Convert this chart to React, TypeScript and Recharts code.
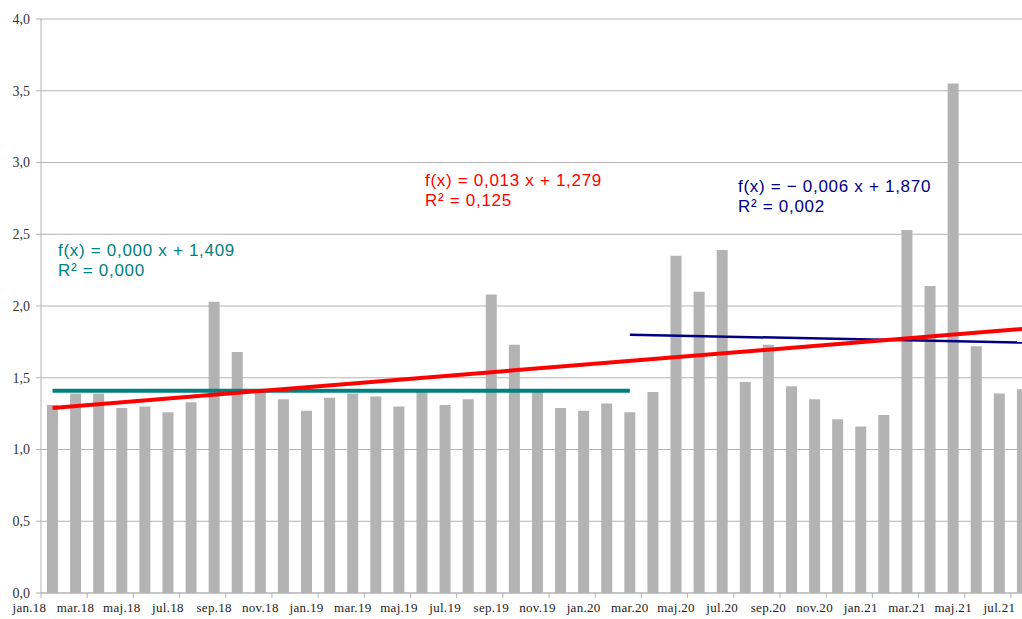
import { ComposedChart, Bar, Line, XAxis, YAxis, CartesianGrid } from "recharts";

// monthly values jan.18 - jul.21
const months = [
  "jan.18", "feb.18", "mar.18", "apr.18", "maj.18", "jun.18", "jul.18", "aug.18", "sep.18", "okt.18", "nov.18", "dec.18",
  "jan.19", "feb.19", "mar.19", "apr.19", "maj.19", "jun.19", "jul.19", "aug.19", "sep.19", "okt.19", "nov.19", "dec.19",
  "jan.20", "feb.20", "mar.20", "apr.20", "maj.20", "jun.20", "jul.20", "aug.20", "sep.20", "okt.20", "nov.20", "dec.20",
  "jan.21", "feb.21", "mar.21", "apr.21", "maj.21", "jun.21", "jul.21",
];
const values = [
  1.31, 1.39, 1.39, 1.29, 1.3, 1.26, 1.33, 2.03, 1.68, 1.42, 1.35, 1.27,
  1.36, 1.39, 1.37, 1.3, 1.4, 1.31, 1.35, 2.08, 1.73, 1.4, 1.29, 1.27,
  1.32, 1.26, 1.4, 2.35, 2.1, 2.39, 1.47, 1.73, 1.44, 1.35, 1.21, 1.16,
  1.24, 2.53, 2.14, 3.55, 1.72, 1.39, 1.42,
];

// trend line end points
const redTrendMonths = ["jan.18", "jul.21"];
const redTrendValues = [1.29, 1.84];
const tealTrendMonths = ["jan.18", "feb.20"];
const tealTrendValues = [1.409, 1.409];
const blueTrendMonths = ["feb.20", "jul.21"];
const blueTrendValues = [1.8, 1.745];

const yTicks = [0, 0.5, 1, 1.5, 2, 2.5, 3, 3.5, 4];

const pick = (names: string[], vals: number[], m: string) => {
  const i = names.indexOf(m);
  return i >= 0 ? vals[i] : null;
};

const data = months.map((m, i) => ({
  month: m,
  value: values[i],
  red: pick(redTrendMonths, redTrendValues, m),
  teal: pick(tealTrendMonths, tealTrendValues, m),
  blue: pick(blueTrendMonths, blueTrendValues, m),
}));

const STEP = 23.1;

const MonthTick = (props: any) => {
  const { x, y, payload } = props;
  return (
    <g>
      <line x1={x - STEP / 2} x2={x - STEP / 2} y1={y} y2={y + 5} stroke="#b3b3b3" />
      <text
        x={x - STEP}
        y={y + 19}
        textAnchor="middle"
        fontFamily="Liberation Serif"
        fontSize={13}
        letterSpacing={0.3}
        fill="#222"
      >
        {payload.value}
      </text>
    </g>
  );
};

const eqStyle = {
  position: "absolute" as const,
  fontFamily: "Liberation Sans",
  fontSize: 17,
  lineHeight: "20px",
  letterSpacing: 0.7,
  whiteSpace: "pre" as const,
};

export default function App() {
  return (
    <div
      style={{
        position: "absolute",
        left: 0,
        top: 0,
        width: 1022,
        height: 619,
        overflow: "hidden",
        background: "#fff",
      }}
    >
      <ComposedChart
        width={1044}
        height={619}
        data={data}
        margin={{ top: 19, right: 10, bottom: 0, left: 0 }}
        barCategoryGap={0}
      >
        <CartesianGrid vertical={false} stroke="#b3b3b3" />
        <XAxis
          dataKey="month"
          interval={1}
          tickLine={false}
          tickSize={0}
          tickMargin={0}
          height={26}
          axisLine={{ stroke: "#b3b3b3" }}
          tick={<MonthTick />}
        />
        <YAxis
          domain={[0, 4]}
          ticks={yTicks}
          width={41}
          tickSize={5}
          tickMargin={6}
          axisLine={{ stroke: "#b3b3b3" }}
          tickLine={{ stroke: "#b3b3b3" }}
          tick={{ fontFamily: "Liberation Serif", fontSize: 14, fill: "#333" }}
          tickFormatter={(v: number) => v.toFixed(1).replace(".", ",")}
        />
        <Bar dataKey="value" fill="#b3b3b3" barSize={11} isAnimationActive={false} />
        <Line type="linear" dataKey="teal" stroke="#008080" strokeWidth={4} dot={false} activeDot={false} connectNulls isAnimationActive={false} />
        <Line type="linear" dataKey="blue" stroke="#000080" strokeWidth={2.5} dot={false} activeDot={false} connectNulls isAnimationActive={false} />
        <Line type="linear" dataKey="red" stroke="#ff0000" strokeWidth={4} dot={false} activeDot={false} connectNulls isAnimationActive={false} />
      </ComposedChart>
      <div style={{ ...eqStyle, left: 425, top: 171, color: "#ff0000" }}>
        {"f(x) = 0,013 x + 1,279\nR² = 0,125"}
      </div>
      <div style={{ ...eqStyle, left: 58, top: 241, color: "#008080" }}>
        {"f(x) = 0,000 x + 1,409\nR² = 0,000"}
      </div>
      <div style={{ ...eqStyle, left: 738, top: 177, color: "#000080" }}>
        {"f(x) = \u2212 0,006 x + 1,870\nR² = 0,002"}
      </div>
    </div>
  );
}
